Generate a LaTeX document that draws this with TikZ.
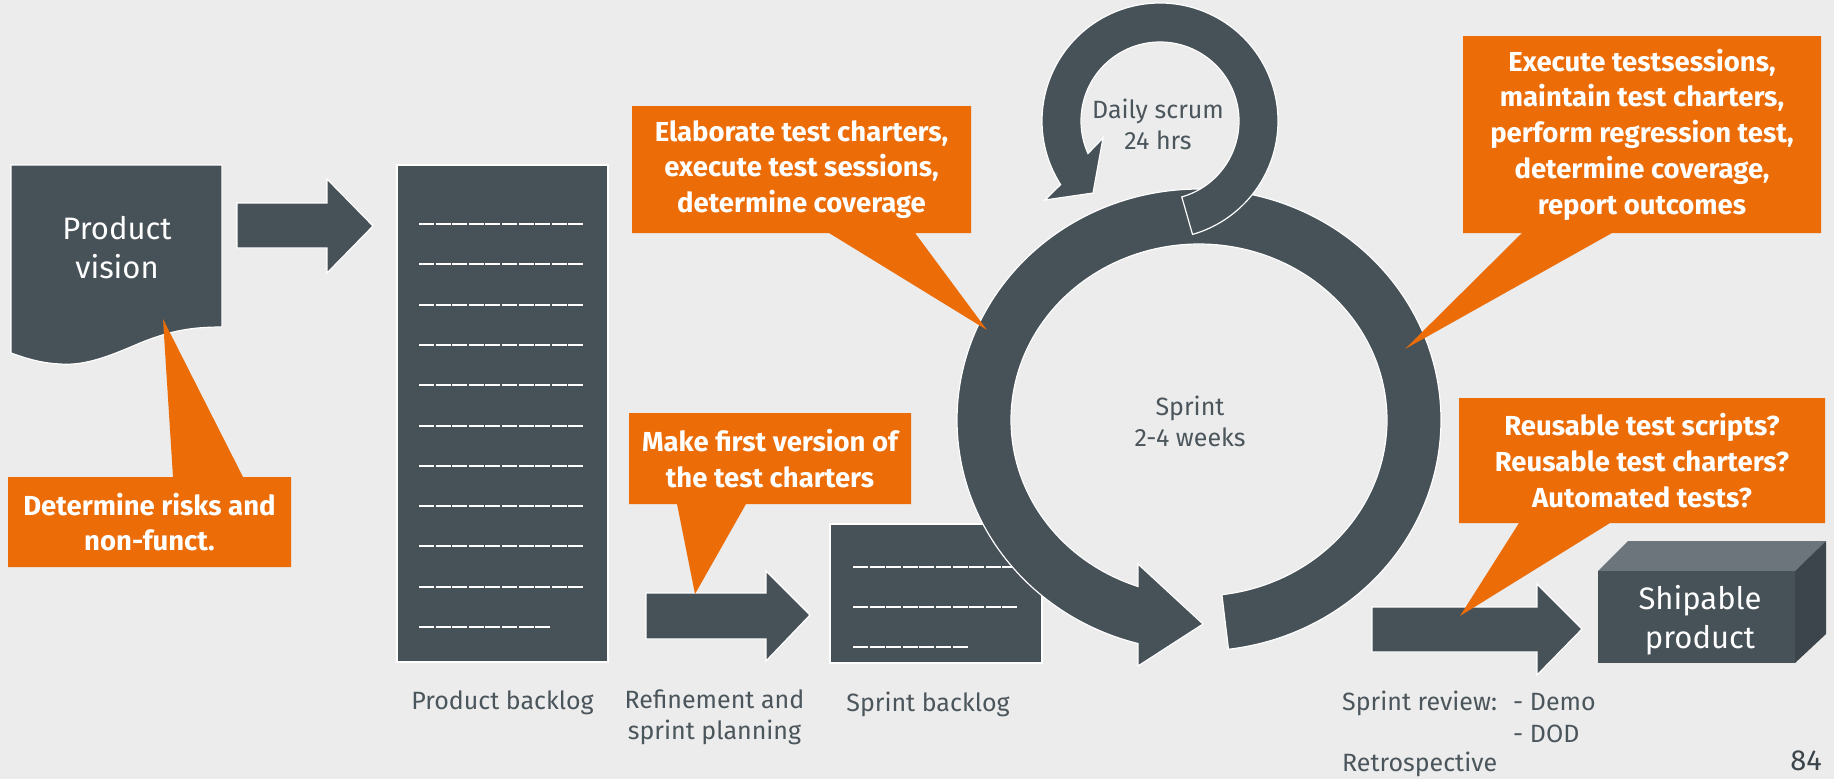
\documentclass[tikz,border=0pt]{standalone}
\usepackage{fontspec}
\setmainfont{Fira Sans}
\definecolor{bg}{HTML}{EBECEB}
\definecolor{slate}{HTML}{475158}
\definecolor{orng}{HTML}{EC6C08}
\definecolor{slatelt}{HTML}{6C757C}
\definecolor{slatedk}{HTML}{3C454B}
\definecolor{lbl}{HTML}{4B555C}
\tikzset{
  blk/.style={fill=slate, draw=white, line width=1.2pt, line join=miter},
  callout/.style={fill=orng},
  ctext/.style={text=white, font=\bfseries\fontsize{27.5}{35.7}\selectfont, align=center, inner sep=0pt},
  lbltext/.style={text=lbl, font=\fontsize{25}{31}\selectfont, inner sep=0pt, align=center},
  wtext/.style={text=white, font=\fontsize{31}{39}\selectfont, align=center, inner sep=0pt},
  ruling/.style={draw=white, line width=2pt, dash pattern=on 15pt off 1.6pt},
}
\begin{document}
\begin{tikzpicture}[x=1pt,y=-1pt]
\useasboundingbox (0,0) rectangle (1834,779);
\fill[bg] (0,0) rectangle (1834,779);

% Product vision document
\path[blk] (11,165) -- (222,165) -- (222,327)
  .. controls (190,327) and (170,331) .. (140,343)
  .. controls (110,356) and (85,366) .. (60,364)
  .. controls (40,363) and (25,358) .. (11,353) -- cycle;
\node[wtext] (vision) at (117,248) {Product\\vision};

% arrow 1
\path[blk] (237,203) -- (327,203) -- (327,179) -- (373,226) -- (327,273) -- (327,248) -- (237,248) -- cycle;

% Product backlog
\path[blk] (397,165) rectangle (608,662);
\foreach \i in {0,...,9} {
  \draw[ruling] (419,{224+40.3*\i}) -- (583.4,{224+40.3*\i});
}
\draw[ruling] (419,627) -- (550.2,627);
\node[lbltext, anchor=base] (pbl) at (502.5,709) {Product backlog};

% refinement arrow
\path[blk] (646,593) -- (766,593) -- (766,571) -- (810,615) -- (766,661) -- (766,639) -- (646,639) -- cycle;
\node[lbltext] (refl) at (714.5,717) {Refinement and\\sprint planning};

% Sprint backlog
\path[blk] (830,524) rectangle (1042,663);
\draw[ruling] (853,567) -- (1017.4,567);
\draw[ruling] (853,607) -- (1017.4,607);
\draw[ruling] (853,647) -- (967.6,647);
\node[lbltext, anchor=base] (sbl) at (928,711) {Sprint backlog};

% big sprint ring
\path[blk] plot[domain=83:-255.4, samples=240, variable=\t] ({1199+242*cos(\t)},{420+231*sin(\t)})
  -- (1138,666) -- (1203,624) -- (1138,564)
  -- plot[domain=-251.1:83, samples=240, variable=\t] ({1199+188*cos(\t)},{420+176*sin(\t)}) -- cycle;
\node[lbltext] (sprint) at (1190,421) {Sprint\\2-4 weeks};

% daily scrum ring
\path[blk] plot[domain=74:-212.6, samples=200, variable=\t] ({1160+118*cos(\t)},{121+118*sin(\t)})
  -- (1045,200) -- (1093,193) -- (1103,138)
  -- plot[domain=-204.3:74, samples=200, variable=\t] ({1160+79*cos(\t)},{121+79*sin(\t)}) -- cycle;
\node[lbltext] (daily) at (1158,124) {Daily scrum\\24 hrs};

% shipable arrow
\path[blk] (1372,607) -- (1537,607) -- (1537,584) -- (1582,629) -- (1537,675) -- (1537,652) -- (1372,652) -- cycle;

% shipable product box
\fill[slatelt] (1598,571) -- (1628,541) -- (1826,541) -- (1795,571) -- cycle;
\fill[slatedk] (1795,571) -- (1826,541) -- (1826,634) -- (1795,663) -- cycle;
\fill[slate] (1598,571) rectangle (1795,663);
\node[wtext] (ship) at (1700,620) {Shipable\\product};

% callouts
\path[callout] (8,477) -- (173,477) -- (163,319) -- (243,477) -- (291,477) -- (291,567) -- (8,567) -- cycle;
\node[ctext] (c1) at (149.5,522) {Determine risks and\\non-funct.};

\path[callout] (629,413) -- (911,413) -- (911,504) -- (746,504) -- (695,594) -- (677,504) -- (629,504) -- cycle;
\node[ctext] (c2) at (770,458.5) {Make first version of\\the test charters};

\path[callout] (632,106) -- (971,106) -- (971,233) -- (915,233) -- (987,330) -- (829,233) -- (632,233) -- cycle;
\node[ctext] (c3) at (801.5,169.5) {Elaborate test charters,\\execute test sessions,\\determine coverage};

\path[callout] (1463,36) -- (1821,36) -- (1821,233) -- (1612,233) -- (1405,349) -- (1522,233) -- (1463,233) -- cycle;
\node[ctext] (c4) at (1642,134.5) {Execute testsessions,\\maintain test charters,\\perform regression test,\\determine coverage,\\report outcomes};

\path[callout] (1459,398) -- (1825,398) -- (1825,523) -- (1610,523) -- (1460,616) -- (1519,523) -- (1459,523) -- cycle;
\node[ctext] (c5) at (1642,460.5) {Reusable test scripts?\\Reusable test charters?\\Automated tests?};

% bottom right labels
\node[lbltext, anchor=base west] (rev) at (1342,710) {Sprint review:};
\node[lbltext, anchor=base west] (demo) at (1513,710) {- Demo};
\node[lbltext, anchor=base west] (dod) at (1513,742) {- DOD};
\node[lbltext, anchor=base west] (retro) at (1342,771) {Retrospective};
\node[text=slatedk, font=\fontsize{29}{36}\selectfont, inner sep=0pt, anchor=base east] (pg) at (1822,770) {84};
\end{tikzpicture}
\end{document}
